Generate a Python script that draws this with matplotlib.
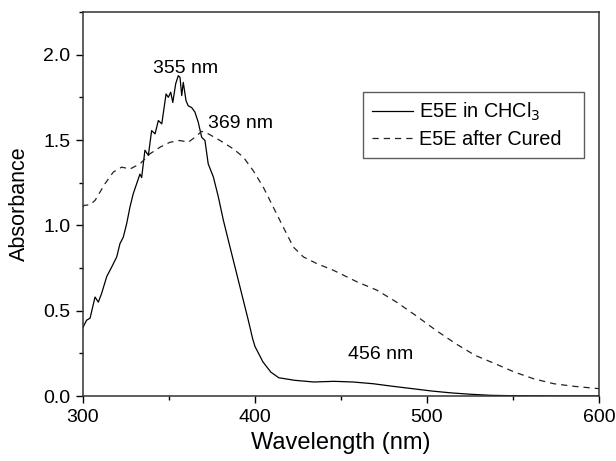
import matplotlib
matplotlib.use("Agg")
import matplotlib.pyplot as plt
from matplotlib.ticker import MultipleLocator

plt.rcParams['font.family'] = ['Liberation Sans', 'DejaVu Sans']

# E5E in CHCl3 (solid)
wl_sol = [300.0, 300.6, 302.1, 304.1, 307.0, 308.9, 310.8, 313.8, 316.7, 319.6, 321.5, 323.4,
          325.4, 327.3, 329.2, 331.2, 333.1, 334.1, 336.0, 338.0, 339.9, 341.9, 343.8, 345.8,
          348.3, 349.6, 351.0, 352.2, 353.9, 355.4, 356.4, 357.4, 358.3, 359.9, 361.2, 363.2,
          365.1, 367.0, 369.0, 370.9, 372.8, 375.8, 378.7, 381.6, 384.5, 387.4, 390.3, 393.2,
          396.1, 398.6, 400.0, 404.6, 409.2, 413.8, 423.0, 434.3, 445.8, 457.0, 468.6, 480.0,
          491.5, 502.9, 514.3, 525.7, 537.0, 548.6, 560.0, 575.0, 600.0]
abs_sol = [0.40, 0.415, 0.444, 0.456, 0.58, 0.55, 0.60, 0.70, 0.756, 0.815, 0.893, 0.93,
           1.01, 1.107, 1.185, 1.244, 1.30, 1.28, 1.44, 1.41, 1.555, 1.536, 1.614, 1.595,
           1.77, 1.75, 1.78, 1.72, 1.83, 1.877, 1.867, 1.76, 1.838, 1.73, 1.70, 1.69,
           1.663, 1.604, 1.516, 1.497, 1.36, 1.283, 1.166, 1.03, 0.912, 0.795, 0.678, 0.561,
           0.444, 0.337, 0.29, 0.20, 0.14, 0.107, 0.092, 0.082, 0.086, 0.082, 0.072, 0.057,
           0.043, 0.029, 0.018, 0.010, 0.004, 0.002, 0.001, 0.0, 0.0]

# E5E after Cured (dashed)
wl_cur = [300.0, 300.6, 304.0, 307.0, 312.8, 317.6, 322.5, 327.3, 333.1, 338.9, 344.8, 350.6,
          356.4, 361.2, 365.1, 369.0, 372.9, 379.7, 387.4, 393.2, 399.0, 404.8, 410.6, 416.4,
          422.3, 428.1, 435.9, 445.5, 459.5, 470.9, 482.3, 493.7, 505.2, 516.6, 528.0, 539.4,
          550.9, 562.3, 573.7, 585.1, 600.0]
abs_cur = [1.107, 1.117, 1.12, 1.146, 1.244, 1.312, 1.341, 1.33, 1.36, 1.419, 1.458, 1.487,
           1.497, 1.487, 1.516, 1.551, 1.536, 1.497, 1.448, 1.40, 1.32, 1.224, 1.107, 0.99,
           0.873, 0.815, 0.776, 0.737, 0.668, 0.62, 0.55, 0.47, 0.385, 0.307, 0.238, 0.19,
           0.14, 0.10, 0.072, 0.057, 0.043]

x_ticks = [300, 400, 500, 600]
y_ticks = [0.0, 0.5, 1.0, 1.5, 2.0]
peak_labels = ["355 nm", "369 nm", "456 nm"]
peak_pos = [(340.7, 1.895), (372.7, 1.57), (454.0, 0.216)]

fig = plt.figure(figsize=(6.16, 4.61), dpi=100)
ax = fig.add_axes([83/616, 65/461, 516/616, 384/461])

ax.plot(wl_sol, abs_sol, color='black', lw=0.9, label='E5E in CHCl$_3$')
ax.plot(wl_cur, abs_cur, color='#222222', lw=0.9, ls=(0, (5, 4)), label='E5E after Cured')

ax.set_xlim(300, 600)
ax.set_ylim(0, 2.25)
ax.set_xticks(x_ticks)
ax.set_yticks(y_ticks)
ax.set_yticklabels([f"{v:.1f}" for v in y_ticks])
ax.xaxis.set_minor_locator(MultipleLocator(50))
ax.yaxis.set_minor_locator(MultipleLocator(0.25))
ax.tick_params(which='major', direction='out', length=5, width=1, labelsize=14, pad=4)
ax.tick_params(which='minor', direction='out', length=3, width=1)
ax.tick_params(top=False, right=False)
for s in ax.spines.values():
    s.set_linewidth(1.1)
    s.set_color('#333333')

ax.set_xlabel('Wavelength (nm)', fontsize=17, labelpad=5)
ax.set_ylabel('Absorbance', fontsize=15.5, labelpad=10)

for txt, (px, py) in zip(peak_labels, peak_pos):
    ax.text(px, py, txt, fontsize=14, ha='left', va='baseline')

leg_x0 = (363 - 83) / 516
leg_x1 = (584 - 83) / 516
leg_y1 = (396 - 92) / 384
leg = ax.legend(loc='upper left', bbox_to_anchor=(leg_x0, leg_y1 - 0.2, leg_x1 - leg_x0, 0.2),
                mode='expand', fontsize=14.3, frameon=True, fancybox=False,
                edgecolor='#333333', handlelength=2.05, borderpad=0.45, labelspacing=0.35,
                handletextpad=0.3, borderaxespad=0)
leg.get_frame().set_linewidth(1.0)

fig.savefig('out.png', dpi=100)
